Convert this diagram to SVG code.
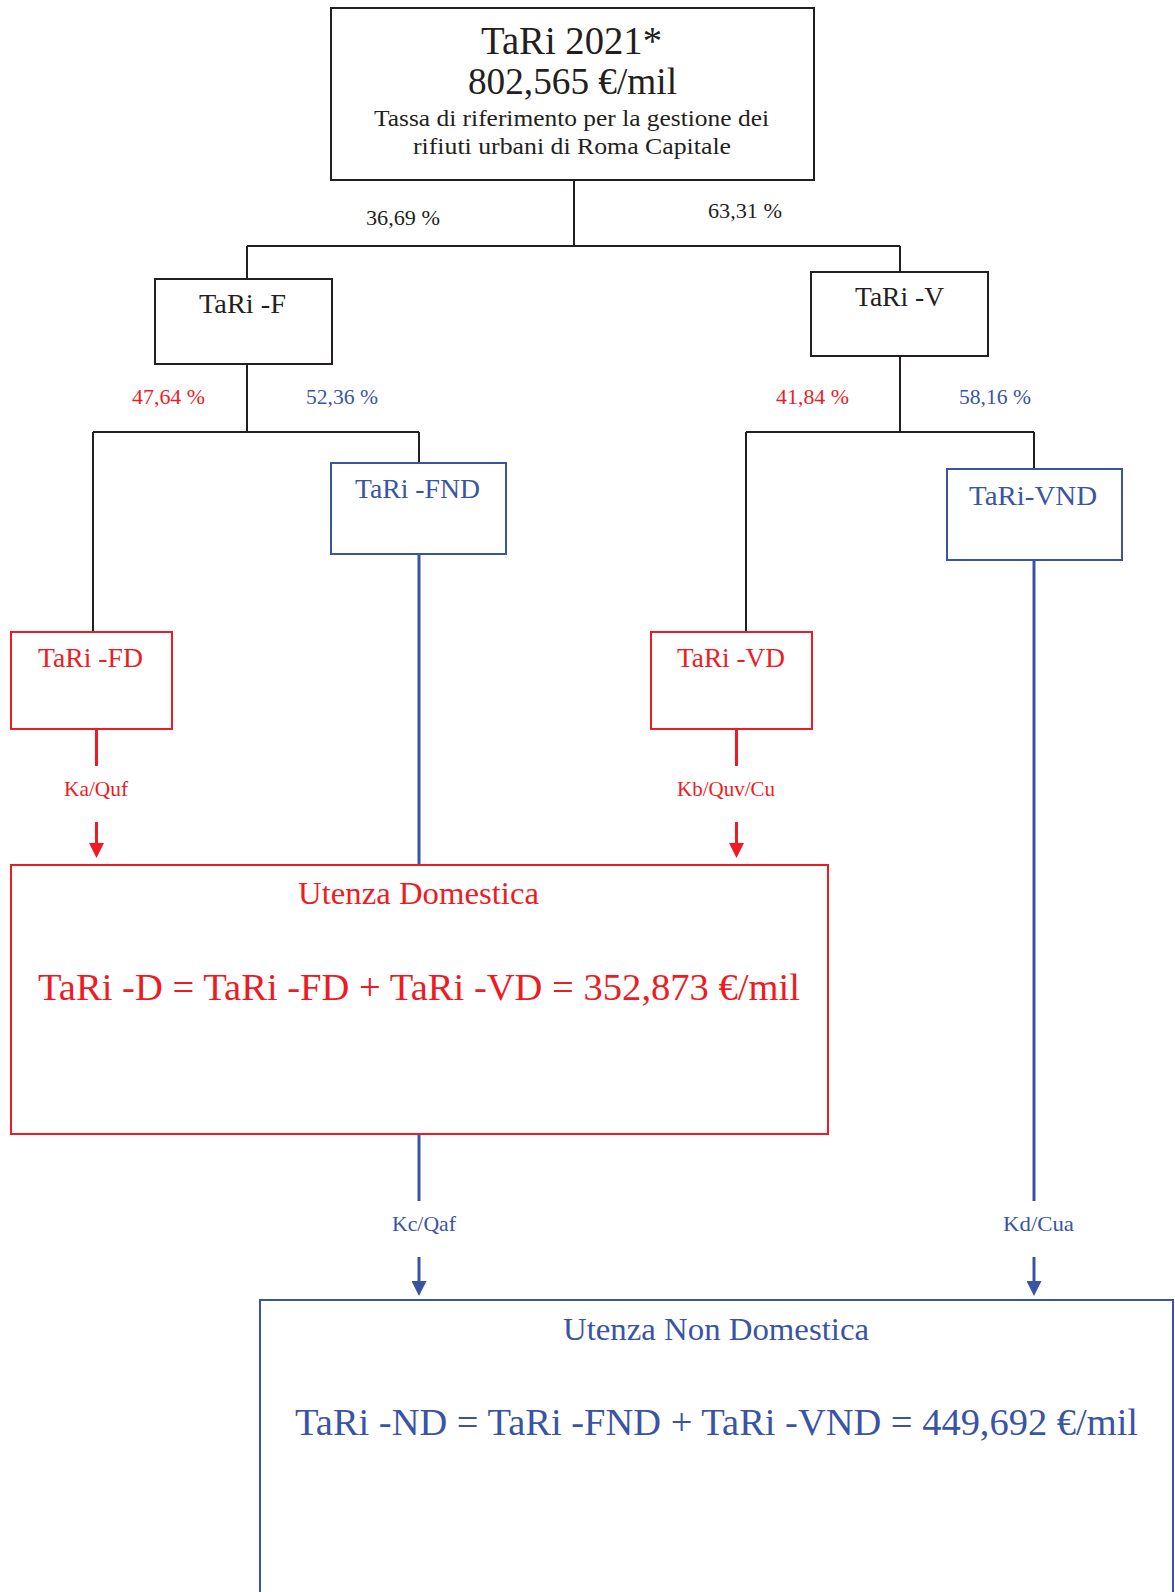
<svg xmlns="http://www.w3.org/2000/svg" width="1175" height="1592" viewBox="0 0 1175 1592">
<defs>
<style>
text{font-family:"Liberation Serif","Times New Roman",serif;}
.k{fill:#231F20}
.r{fill:#ED1C24}
.b{fill:#3A54A4}
.boxk{fill:none;stroke:#231F20;stroke-width:2}
.boxr{fill:none;stroke:#ED1C24;stroke-width:2}
.boxb{fill:none;stroke:#3A54A4;stroke-width:2}
.lk{fill:none;stroke:#231F20;stroke-width:2}
.lr{fill:none;stroke:#ED1C24;stroke-width:3}
.lb{fill:none;stroke:#3A54A4;stroke-width:3}
.pct{font-size:21px}
.node{font-size:27px}
.lbl{font-size:21px}
</style>
<marker id="ar" viewBox="0 0 10 10" refX="0" refY="5" markerUnits="userSpaceOnUse" markerWidth="15" markerHeight="15" orient="auto"><path d="M0,0 L10,5 L0,10 z" fill="#ED1C24"/></marker>
<marker id="ab" viewBox="0 0 10 10" refX="0" refY="5" markerUnits="userSpaceOnUse" markerWidth="15" markerHeight="15" orient="auto"><path d="M0,0 L10,5 L0,10 z" fill="#3A54A4"/></marker>
</defs>
<rect width="1175" height="1592" fill="#fff"/>

<g id="connectors">
<path class="lk" d="M574,180 V246 M247,246 H900 M247,246 V279 M900,246 V272"/>
<path class="lk" d="M247,364 V432 M93,432 H419 M93,432 V632 M419,432 V463"/>
<path class="lk" d="M900,356 V432 M746,432 H1034 M746,432 V632 M1034,432 V469"/>
<path class="lb" d="M419,554 V865"/>
<path class="lb" d="M1034,560 V1201"/>
<path class="lb" d="M419,1134 V1201"/>
<path class="lr" d="M96.5,729 V766"/>
<path class="lr" d="M736.5,729 V766"/>
<line class="lr" x1="96.5" y1="822" x2="96.5" y2="843" marker-end="url(#ar)"/>
<line class="lr" x1="736.5" y1="822" x2="736.5" y2="843" marker-end="url(#ar)"/>
<line class="lb" x1="419" y1="1257" x2="419" y2="1281" marker-end="url(#ab)"/>
<line class="lb" x1="1034" y1="1257" x2="1034" y2="1281" marker-end="url(#ab)"/>
<text class="pct k" x="366" y="225" textLength="74" lengthAdjust="spacingAndGlyphs">36,69 %</text>
<text class="pct k" x="708" y="218" textLength="74" lengthAdjust="spacingAndGlyphs">63,31 %</text>
<text class="pct r" x="132" y="404" textLength="73" lengthAdjust="spacingAndGlyphs">47,64 %</text>
<text class="pct b" x="306" y="404" textLength="72" lengthAdjust="spacingAndGlyphs">52,36 %</text>
<text class="pct r" x="776" y="404" textLength="73" lengthAdjust="spacingAndGlyphs">41,84 %</text>
<text class="pct b" x="959" y="404" textLength="72" lengthAdjust="spacingAndGlyphs">58,16 %</text>
<text class="lbl r" x="64" y="796" textLength="64" lengthAdjust="spacingAndGlyphs">Ka/Quf</text>
<text class="lbl r" x="677" y="796" textLength="98" lengthAdjust="spacingAndGlyphs">Kb/Quv/Cu</text>
<text class="lbl b" x="392" y="1231" textLength="64" lengthAdjust="spacingAndGlyphs">Kc/Qaf</text>
<text class="lbl b" x="1003" y="1231" textLength="71" lengthAdjust="spacingAndGlyphs">Kd/Cua</text>
</g>

<g id="tari2021">
<rect class="boxk" x="331" y="8" width="483" height="172"/>
<text class="k" x="481" y="54" font-size="39" textLength="181" lengthAdjust="spacingAndGlyphs">TaRi  2021*</text>
<text class="k" x="468" y="94" font-size="38" textLength="209" lengthAdjust="spacingAndGlyphs">802,565 €/mil</text>
<text class="k" x="374" y="126" font-size="24" textLength="395" lengthAdjust="spacingAndGlyphs">Tassa di riferimento per la gestione dei</text>
<text class="k" x="413" y="154" font-size="24" textLength="318" lengthAdjust="spacingAndGlyphs">rifiuti urbani di Roma Capitale</text>
</g>

<g id="tari-f">
<rect class="boxk" x="155" y="279" width="177" height="85"/>
<text class="node k" x="199" y="313" textLength="87" lengthAdjust="spacingAndGlyphs">TaRi -F</text>
</g>

<g id="tari-v">
<rect class="boxk" x="811" y="272" width="177" height="84"/>
<text class="node k" x="855" y="306" textLength="89" lengthAdjust="spacingAndGlyphs">TaRi -V</text>
</g>

<g id="tari-fnd">
<rect class="boxb" x="331" y="463" width="175" height="91"/>
<text class="node b" x="355" y="498" textLength="125" lengthAdjust="spacingAndGlyphs">TaRi -FND</text>
</g>

<g id="tari-vnd">
<rect class="boxb" x="947" y="469" width="175" height="91"/>
<text class="node b" x="969" y="505" textLength="128" lengthAdjust="spacingAndGlyphs">TaRi-VND</text>
</g>

<g id="tari-fd">
<rect class="boxr" x="11" y="632" width="161" height="97"/>
<text class="node r" x="38" y="667" textLength="105" lengthAdjust="spacingAndGlyphs">TaRi -FD</text>
</g>

<g id="tari-vd">
<rect class="boxr" x="651" y="632" width="161" height="97"/>
<text class="node r" x="677" y="667" textLength="108" lengthAdjust="spacingAndGlyphs">TaRi -VD</text>
</g>

<g id="utenza-domestica">
<rect class="boxr" x="11" y="865" width="817" height="269"/>
<text class="r" x="298" y="904" font-size="32" textLength="241" lengthAdjust="spacingAndGlyphs">Utenza Domestica</text>
<text class="r" x="38" y="1000" font-size="38" textLength="762" lengthAdjust="spacingAndGlyphs">TaRi -D = TaRi -FD + TaRi -VD = 352,873 €/mil</text>
</g>

<g id="utenza-non-domestica">
<rect class="boxb" x="260" y="1300" width="913" height="320"/>
<text class="b" x="563" y="1340" font-size="32" textLength="306" lengthAdjust="spacingAndGlyphs">Utenza Non Domestica</text>
<text class="b" x="295" y="1435" font-size="38" textLength="843" lengthAdjust="spacingAndGlyphs">TaRi -ND = TaRi -FND + TaRi -VND = 449,692 €/mil</text>
</g>
</svg>
